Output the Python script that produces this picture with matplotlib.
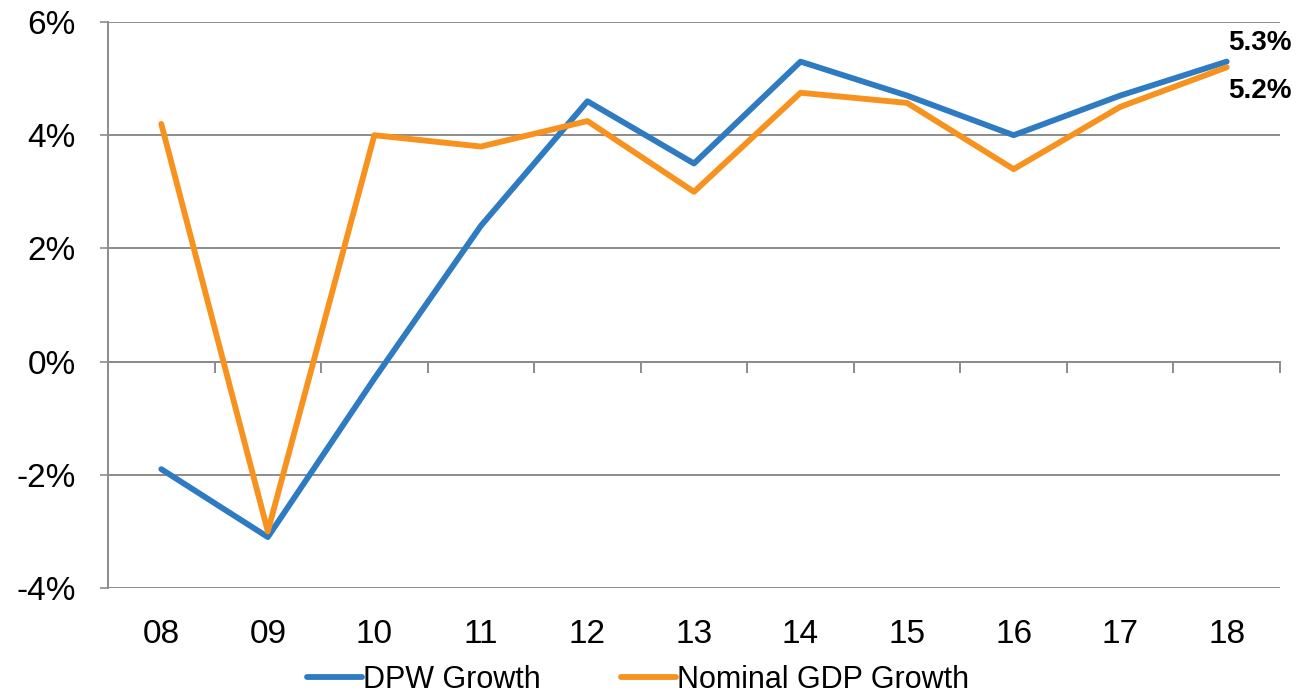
import matplotlib
matplotlib.use("Agg")
import matplotlib.pyplot as plt
import numpy as np

years = ["08", "09", "10", "11", "12", "13", "14", "15", "16", "17", "18"]
dpw_growth = [-1.9, -3.1, -0.3, 2.4, 4.6, 3.5, 5.3, 4.7, 4.0, 4.7, 5.3]
gdp_growth = [4.2, -3.0, 4.0, 3.8, 4.25, 3.0, 4.75, 4.57, 3.4, 4.5, 5.2]
y_ticks = [-4, -2, 0, 2, 4, 6]

plt.rcParams['font.family'] = ['Liberation Sans', 'DejaVu Sans']

BLUE = "#2F7BC1"
ORANGE = "#F7921E"
GRID = "#8C8C8C"

fig = plt.figure(figsize=(13.05, 6.94), dpi=100)
ax = fig.add_axes([108/1305, 1-588/694, (1280-108)/1305, (588-22)/694])

x = np.arange(len(years))
ax.plot(x, dpw_growth, color=BLUE, lw=4.2, solid_capstyle='round', solid_joinstyle='round', label="DPW Growth", zorder=3)
ax.plot(x, gdp_growth, color=ORANGE, lw=4.2, solid_capstyle='round', solid_joinstyle='round', label="Nominal GDP Growth", zorder=3)

ax.set_xlim(-0.5, len(years) - 0.5)
ax.set_ylim(y_ticks[0], y_ticks[-1])
ax.set_yticks(y_ticks)
ax.set_yticklabels([f"{v}%" for v in y_ticks])
ax.yaxis.grid(True, color=GRID, lw=1.4)
ax.set_axisbelow(True)

for s in ['top', 'right', 'bottom']:
    ax.spines[s].set_visible(False)
ax.spines['left'].set_color(GRID)
ax.spines['left'].set_linewidth(1.4)
ax.tick_params(axis='y', length=6, width=1.2, color=GRID, pad=17, labelsize=24)

ax.set_xticks(x)
ax.set_xticklabels(years)
ax.tick_params(axis='x', length=0, pad=22, labelsize=24)

# zero axis with boundary ticks
sec = ax.secondary_xaxis((0 - y_ticks[0]) / (y_ticks[-1] - y_ticks[0]))
sec.set_xticks(np.arange(-0.5, len(years), 1.0))
sec.set_xticklabels([])
sec.tick_params(axis='x', length=8, width=1.4, color=GRID, direction='out')
sec.spines['bottom'].set_color(GRID)
sec.spines['bottom'].set_linewidth(1.4)

# end labels
ax.annotate(f"{dpw_growth[-1]:.1f}%", (x[-1], dpw_growth[-1]), xytext=(1, 4),
            textcoords='offset points', fontsize=20, fontweight='bold', ha='left', va='bottom')
ax.annotate(f"{gdp_growth[-1]:.1f}%", (x[-1], gdp_growth[-1]), xytext=(1, -8),
            textcoords='offset points', fontsize=20, fontweight='bold', ha='left', va='top')

fig.legend(loc='center', bbox_to_anchor=(638/1305, 1-680/694), ncol=2, frameon=False,
           fontsize=22, handlelength=1.8, handletextpad=0.05, columnspacing=2.6,
           borderaxespad=0, borderpad=0)

fig.savefig("out.png", dpi=100)
